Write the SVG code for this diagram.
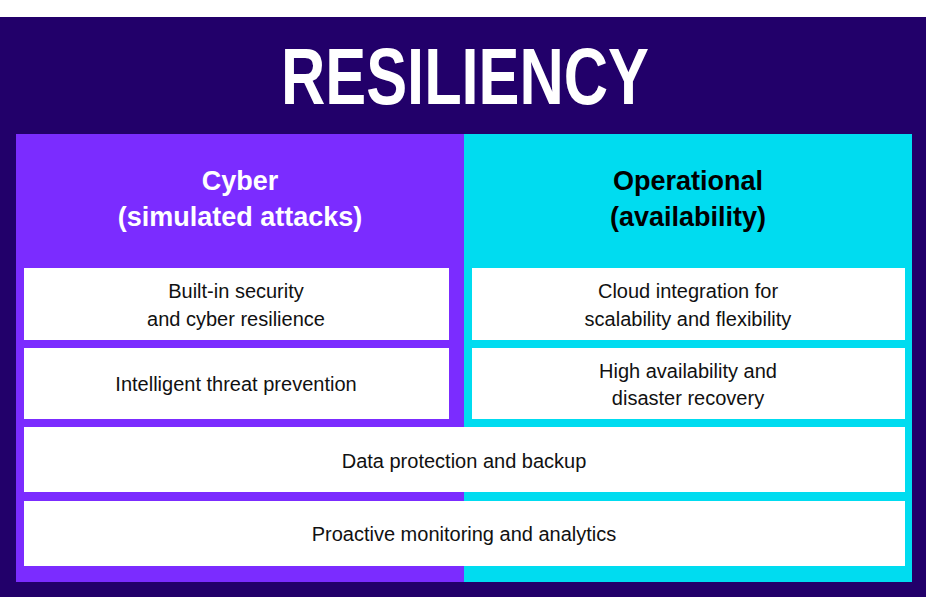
<svg xmlns="http://www.w3.org/2000/svg" width="926" height="597" viewBox="0 0 926 597">
<style>
text{font-family:"Liberation Sans",Arial,sans-serif;text-anchor:middle}
.b{fill:#fff}
.t{font-size:20px;fill:#111}
.h{font-size:27px;font-weight:bold}
</style>
<rect x="0" y="0" width="926" height="597" fill="#fff"/>
<rect x="0" y="17" width="926" height="580" fill="#22006a"/>
<text x="465" y="104" font-size="80" font-weight="bold" fill="#fff" textLength="368" lengthAdjust="spacingAndGlyphs">RESILIENCY</text>
<rect x="16" y="134" width="448" height="448" fill="#7b2cff"/>
<rect x="464" y="134" width="448" height="448" fill="#00dcf0"/>
<g id="cyber"><text class="h" x="240" y="190" fill="#fff">Cyber</text><text class="h" x="240" y="226" fill="#fff">(simulated attacks)</text></g>
<g id="operational"><text class="h" x="688" y="190" fill="#000">Operational</text><text class="h" x="688" y="226" fill="#000">(availability)</text></g>
<g id="n1"><rect class="b" x="24" y="268" width="425" height="72"/><text class="t" x="236" y="298">Built-in security</text><text class="t" x="236" y="326">and cyber resilience</text></g>
<g id="n2"><rect class="b" x="24" y="348" width="425" height="71"/><text class="t" x="236" y="391">Intelligent threat prevention</text></g>
<g id="n3"><rect class="b" x="472" y="268" width="433" height="72"/><text class="t" x="688" y="298">Cloud integration for</text><text class="t" x="688" y="326">scalability and flexibility</text></g>
<g id="n4"><rect class="b" x="472" y="348" width="433" height="71"/><text class="t" x="688" y="378">High availability and</text><text class="t" x="688" y="405">disaster recovery</text></g>
<g id="n5"><rect class="b" x="24" y="427" width="881" height="65"/><text class="t" x="464" y="468">Data protection and backup</text></g>
<g id="n6"><rect class="b" x="24" y="501" width="881" height="65"/><text class="t" x="464" y="541">Proactive monitoring and analytics</text></g>
<g id="connectors"></g>
</svg>
